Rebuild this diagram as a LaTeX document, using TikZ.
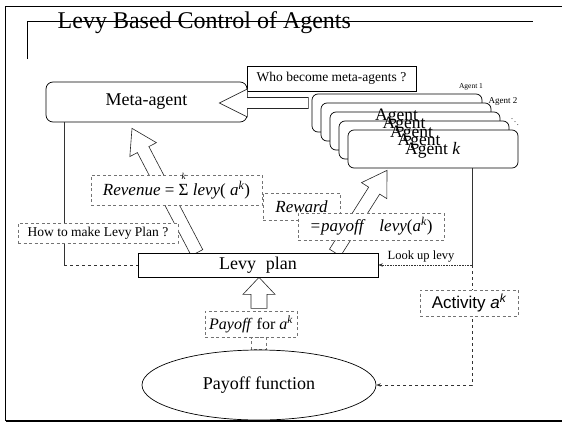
\documentclass[tikz,border=0pt]{standalone}
\usepackage{fontspec}
\setmainfont{Liberation Serif}
\setsansfont{Liberation Sans}
\usetikzlibrary{calc,arrows.meta,shapes.geometric}
\pgfdeclarelayer{bg}
\pgfsetlayers{bg,main}
\tikzset{
 rbox/.style={draw, line width=0.7pt, rounded corners=7pt, fill=white, inner sep=0pt, align=center},
 sbox/.style={draw, line width=0.7pt, fill=white, inner sep=0pt},
 dbox/.style={draw=black!55, dash pattern=on 3pt off 2.5pt, line width=0.6pt, fill=white, inner sep=0pt},
 conn/.style={draw=black!80, line width=0.6pt},
 tipend/.style={-{Stealth[length=4.5pt,width=3.5pt]}},
 blkstyle/.style={draw=black!85, line width=0.6pt, fill=white, line join=miter},
}
\newcommand\fs[1]{\fontsize{#1}{#1}\selectfont}
\newcommand\blkarrow[5]{%
 \coordinate (bkB) at ($(#2)!#5!(#1)$);
 \draw[blkstyle] ($(#1)!#3!90:(#2)$) -- ($(bkB)!#3!90:(#2)$) -- ($(bkB)!#4!90:(#2)$) -- (#2) -- ($(bkB)!#4!-90:(#2)$) -- ($(bkB)!#3!-90:(#2)$) -- ($(#1)!#3!-90:(#2)$) -- cycle;
}
\newcommand\sumk{\leavevmode\rlap{\smash{\makebox[0.6em][c]{\raisebox{0.95em}{\fs{9}\itshape k}}}}Σ}
\begin{document}
\begin{tikzpicture}[x=1pt,y=-1pt]
\useasboundingbox (0,0) rectangle (562,423);
% outer frame
\draw[line width=1.4pt] (5.5,421) -- (5.5,6.5) -- (562,6.5);
\draw[line width=1.4pt] (5.5,421) -- (562,421);
% title
\draw[line width=0.8pt] (27,59) -- (27,21) -- (533,21);
\node[anchor=base west, inner sep=0pt, font=\fs{24}] (title) at (57.5,28) {Levy Based Control of Agents};

% main nodes
\node[rbox, minimum width=201pt, minimum height=40pt, font=\fs{18}] (meta) at (146.5,102) {Meta-agent};
\node[sbox, minimum width=240pt, minimum height=24pt, font=\fs{18}] (levy) at (258,265) {Levy\hspace{10pt}plan};
\foreach \i in {0,...,4}
  \node[rbox, rounded corners=6pt, minimum width=170pt, minimum height=38pt] (ag\i) at (397+9*\i, 113+9*\i) {};
\foreach \i in {0,...,3}
  \node[anchor=base west, inner sep=0pt, font=\fs{17.5}] (agt\i) at (375+7.5*\i, 120+8.5*\i) {Agent};
\node[anchor=base west, inner sep=0pt, font=\fs{17.5}] (agt4) at (405,154) {Agent \textit{k}};
\node[inner sep=0pt, font=\fs{7.5}] (lab1) at (471,87) {Agent 1};
\node[inner sep=0pt, font=\fs{9}] (lab2) at (503,101) {Agent 2};
\node[inner sep=0pt, font=\fs{8}] (dots) at (515,119) {$\ddots$};

\node[sbox, minimum width=169pt, minimum height=25pt, font=\fs{13.5}] (who) at (331.5,78.5) {Who become meta-agents ?};
\node[dbox, minimum width=160pt, minimum height=20pt, font=\fs{13.5}] (how) at (98,233) {How to make Levy Plan ?};
\node[dbox, minimum width=171pt, minimum height=30pt, font=\fs{17}] (rev) at (176.5,190) {\textit{Revenue} = \sumk\ \textit{levy}( \textit{a}\textsuperscript{\itshape k})};
\node[dbox, minimum width=77pt, minimum height=27pt, font=\fs{17}\itshape] (rew) at (301.5,206.5) {Reward};
\node[dbox, minimum width=146pt, minimum height=27pt, font=\fs{17}] (eq) at (371,226.5) {\textit{=payoff}\hspace{14pt}\textit{levy}(\textit{a}\textsuperscript{\itshape k})};
\node[dbox, minimum width=92pt, minimum height=26pt, font=\fs{16}] (pay) at (251,324) {\textit{Payoff} for \textit{a}\textsuperscript{\itshape k}};
\node[draw, ellipse, line width=0.7pt, minimum width=234pt, minimum height=70pt, inner sep=0pt, font=\fs{18}] (pfun) at (259,385) {Payoff function};
\node[inner sep=0pt, font=\fs{12.5}] (look) at (421,257) {Look up levy};
\node[dbox, minimum width=98pt, minimum height=26pt, font=\sffamily\fs{17}] (act) at (469,303) {Activity \textit{a}\textsuperscript{\itshape k}};

% big arrow to meta-agent
\coordinate (a1t) at ($(meta.east)+(61,1)$);
\coordinate (a1h) at ($(meta.east)+(-28,1)$);
\blkarrow{a1t}{a1h}{5.5pt}{14pt}{28pt}

\begin{pgfonlayer}{bg}
\coordinate (rx) at (472,0);
\coordinate (lx) at (64,0);
\draw[conn] (meta.south -| lx) -- (levy.west -| lx);
\draw[conn, dashed] (levy.west -| lx) -- (levy.west);
\draw[conn] (ag4.south -| rx) -- (levy.east -| rx);
\draw[conn, densely dotted, tipend] (levy.east -| rx) -- (levy.east);
\draw[conn, dashed, tipend] (levy.east -| rx) |- (pfun.east);
\coordinate (a2t) at ($(levy.north)+(-61,0)$);
\coordinate (a2h) at ($(meta.south)+(-14.5,6)$);
\blkarrow{a2t}{a2h}{6.5pt}{15pt}{24pt}
\coordinate (a3t) at ($(levy.north)+(77,0)$);
\coordinate (a3h) at ($(ag4.south)+(-46,2)$);
\blkarrow{a3t}{a3h}{6.5pt}{15pt}{24pt}
\coordinate (a4t) at ($(levy.south)+(1,31)$);
\coordinate (a4h) at ($(levy.south)+(1,0)$);
\blkarrow{a4t}{a4h}{8pt}{16pt}{17pt}
\draw[dbox] ($(pfun.north)+(-7.5,0)$) rectangle ($(pfun.north |- pay.south)+(7.5,0)$);
\end{pgfonlayer}
\end{tikzpicture}
\end{document}
